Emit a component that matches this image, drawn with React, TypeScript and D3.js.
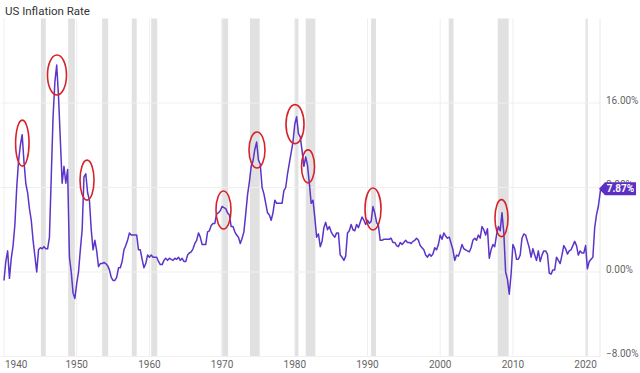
import { useEffect, useRef } from "react";
import * as d3 from "d3";

const title = "US Inflation Rate";

const decadeTicks = [1940, 1950, 1960, 1970, 1980, 1990, 2000, 2010, 2020];
const percentTicks = [-8, 0, 8, 16];

// NBER recessions, start / end as decimal years
const recessions: [number, number][] = [
  [1945.08, 1945.75],
  [1948.83, 1949.75],
  [1953.5, 1954.33],
  [1957.58, 1958.25],
  [1960.25, 1961.08],
  [1969.92, 1970.83],
  [1973.83, 1975.17],
  [1980.0, 1980.5],
  [1981.5, 1982.83],
  [1990.5, 1991.17],
  [2001.17, 2001.83],
  [2007.92, 2009.42],
  [2020.08, 2020.3],
];

const firstYear = 1940;
// YoY CPI inflation (%), quarterly readings: Jan, Apr, Jul, Oct
const inflation = [
  -0.8, 1.0, 2.0, -0.6, // 1940
  1.3, 2.5, 4.5, 8.0, // 1941
  10.5, 12.0, 13.0, 10.4, // 1942
  8.4, 7.5, 6.0, 4.9, // 1943
  3.0, 1.5, 0.0, 2.1, // 1944
  2.3, 2.2, 2.4, 2.2, // 1945
  2.2, 3.3, 9.0, 14.7, // 1946
  18.0, 19.6, 16.6, 12.5, // 1947
  8.4, 10.0, 8.4, 9.7, // 1948
  1.4, 0.0, -2.0, -2.5, // 1949
  -1.1, 0.0, 2.1, 4.0, // 1950
  9.0, 9.3, 7.5, 6.8, // 1951
  4.0, 2.1, 3.0, 2.0, // 1952
  0.5, 0.8, 0.8, 0.9, // 1953
  0.8, 0.6, 0.2, -0.5, // 1954
  -0.8, -0.8, -0.5, 0.4, // 1955
  0.4, 1.0, 2.1, 2.5, // 1956
  3.0, 3.7, 3.5, 3.5, // 1957
  3.5, 3.5, 2.1, 2.1, // 1958
  1.2, 0.4, 0.8, 1.6, // 1959
  1.4, 1.6, 1.4, 1.4, // 1960
  1.4, 1.0, 0.7, 0.7, // 1961
  1.1, 1.3, 1.1, 1.3, // 1962
  1.2, 1.1, 1.3, 1.2, // 1963
  1.4, 1.1, 1.3, 1.0, // 1964
  1.0, 1.6, 1.8, 1.9, // 1965
  2.2, 2.7, 3.0, 3.7, // 1966
  3.3, 2.6, 2.6, 2.6, // 1967
  3.8, 3.9, 4.4, 4.6, // 1968
  4.6, 5.5, 5.6, 5.8, // 1969
  6.2, 6.1, 6.0, 5.6, // 1970
  5.4, 4.3, 4.3, 3.8, // 1971
  3.5, 3.3, 2.7, 3.2, // 1972
  3.8, 5.5, 7.3, 8.5, // 1973
  10.0, 10.5, 11.6, 12.3, // 1974
  10.6, 10.2, 8.0, 7.4, // 1975
  6.5, 5.6, 5.4, 4.9, // 1976
  5.6, 6.8, 6.5, 6.5, // 1977
  6.5, 6.5, 7.7, 8.0, // 1978
  9.3, 10.3, 11.3, 12.3, // 1979
  14.0, 14.7, 13.1, 12.8, // 1980
  11.5, 10.0, 10.9, 10.1, // 1981
  8.4, 6.5, 6.8, 5.2, // 1982
  3.3, 3.6, 2.4, 2.9, // 1983
  4.2, 4.7, 4.0, 4.3, // 1984
  3.8, 3.5, 3.3, 3.7, // 1985
  3.7, 1.6, 1.4, 1.1, // 1986
  1.5, 3.7, 3.9, 4.5, // 1987
  4.0, 3.9, 4.5, 4.2, // 1988
  4.7, 5.2, 4.9, 4.5, // 1989
  4.9, 4.6, 4.8, 6.2, // 1990
  5.6, 4.7, 4.4, 3.0, // 1991
  3.0, 3.1, 3.1, 3.1, // 1992
  3.1, 3.2, 2.8, 2.8, // 1993
  2.5, 2.4, 2.8, 2.6, // 1994
  2.8, 3.0, 2.8, 2.8, // 1995
  2.7, 2.9, 3.0, 3.2, // 1996
  3.0, 2.5, 2.3, 2.1, // 1997
  1.6, 1.4, 1.7, 1.5, // 1998
  1.7, 2.3, 2.1, 2.6, // 1999
  3.5, 3.1, 3.7, 3.4, // 2000
  3.2, 3.3, 2.7, 2.1, // 2001
  1.1, 1.6, 1.5, 2.0, // 2002
  2.6, 2.2, 2.1, 2.0, // 2003
  1.9, 2.3, 3.0, 3.2, // 2004
  3.0, 3.5, 3.2, 4.3, // 2005
  4.0, 3.5, 4.1, 1.3, // 2006
  2.1, 2.6, 2.4, 3.5, // 2007
  4.3, 3.9, 5.6, 3.7, // 2008
  0.0, -0.7, -2.1, -0.2, // 2009
  2.6, 2.2, 1.2, 1.2, // 2010
  1.6, 3.2, 3.6, 3.5, // 2011
  2.9, 2.3, 1.4, 2.2, // 2012
  1.6, 1.1, 2.0, 1.0, // 2013
  1.6, 2.0, 2.0, 1.7, // 2014
  -0.1, -0.2, 0.2, 0.2, // 2015
  1.4, 1.1, 0.8, 1.6, // 2016
  2.5, 2.2, 1.7, 2.0, // 2017
  2.1, 2.5, 2.9, 2.5, // 2018
  1.6, 2.0, 1.8, 1.8, // 2019
  2.5, 0.3, 1.0, 1.2, // 2020
  1.4, 4.2, 5.4, 6.2, // 2021
  7.5, // 2022 Jan
];
const latest = { year: 2022.08, value: 7.87 };

// peaks that are circled in red
const circledPeaks = [
  { year: 1942.52, value: 12.2, rx: 6.7, ry: 23 },
  { year: 1947.29, value: 18.65, rx: 9.5, ry: 20 },
  { year: 1951.42, value: 8.7, rx: 7, ry: 20 },
  { year: 1970.19, value: 5.87, rx: 7.5, ry: 19 },
  { year: 1974.8, value: 11.55, rx: 8, ry: 18 },
  { year: 1980.03, value: 14.0, rx: 9, ry: 19.5 },
  { year: 1981.82, value: 10.0, rx: 6.5, ry: 16.5 },
  { year: 1990.76, value: 5.97, rx: 8, ry: 21 },
  { year: 2008.43, value: 5.1, rx: 6.5, ry: 18.5 },
];

export default function App() {
  const ref = useRef<SVGSVGElement>(null);

  useEffect(() => {
    const svg = d3.select(ref.current);
    svg.selectAll("*").remove();

    const x = d3.scaleLinear().domain([1940, 2020]).range([4, 585.6]);
    const y = d3.scaleLinear().domain([-8, 24]).range([356.5, 18.5]);
    const left = 1;
    const right = 600;
    const font = "Roboto, 'Noto Sans', sans-serif";

    // recession bands
    svg
      .append("g")
      .selectAll("rect")
      .data(recessions)
      .enter()
      .append("rect")
      .attr("x", (d) => x(d[0]))
      .attr("width", (d) => Math.max(1.5, x(d[1]) - x(d[0])))
      .attr("y", y(24))
      .attr("height", y(-8) - y(24))
      .attr("fill", "#e1e1e1");

    // gridlines
    svg
      .append("g")
      .selectAll("line")
      .data(percentTicks)
      .enter()
      .append("line")
      .attr("x1", left)
      .attr("x2", right)
      .attr("y1", (d) => y(d))
      .attr("y2", (d) => y(d))
      .attr("stroke", "#efefef");

    svg
      .append("g")
      .selectAll("line")
      .data(decadeTicks)
      .enter()
      .append("line")
      .attr("x1", (d) => x(d))
      .attr("x2", (d) => x(d))
      .attr("y1", y(24))
      .attr("y2", y(-8))
      .attr("stroke", "#efefef");

    svg
      .append("line")
      .attr("x1", right)
      .attr("x2", right)
      .attr("y1", y(24))
      .attr("y2", y(-8))
      .attr("stroke", "#e8e8e8");

    // inflation line
    const points: [number, number][] = inflation.map((v, i) => [
      firstYear + i / 4,
      v,
    ]);
    points.push([latest.year, latest.value]);

    const line = d3
      .line<[number, number]>()
      .x((d) => x(d[0]))
      .y((d) => y(d[1]));

    svg
      .append("path")
      .datum(points)
      .attr("d", line)
      .attr("fill", "none")
      .attr("stroke", "#5b34c8")
      .attr("stroke-width", 1.5)
      .attr("stroke-linejoin", "round");

    // red circles
    svg
      .append("g")
      .selectAll("ellipse")
      .data(circledPeaks)
      .enter()
      .append("ellipse")
      .attr("cx", (d) => x(d.year))
      .attr("cy", (d) => y(d.value))
      .attr("rx", (d) => d.rx)
      .attr("ry", (d) => d.ry)
      .attr("fill", "none")
      .attr("stroke", "#d7222b")
      .attr("stroke-width", 1.6);

    // right axis labels
    svg
      .append("g")
      .selectAll("text")
      .data(percentTicks)
      .enter()
      .append("text")
      .attr("x", 606)
      .attr("y", (d) => y(d) - 3)
      .attr("dy", "0.35em")
      .style("font-family", font)
      .style("font-size", "10px")
      .style("fill", "#666")
      .text((d) => d3.format(".2f")(d) + "%");

    // x axis labels
    svg
      .append("g")
      .selectAll("text")
      .data(decadeTicks)
      .enter()
      .append("text")
      .attr("x", (d) => (d === 1940 ? x(d) + 1 : x(d)))
      .attr("y", 364)
      .attr("dy", "0.35em")
      .attr("text-anchor", (d) => (d === 1940 ? "start" : "middle"))
      .style("font-family", font)
      .style("font-size", "10px")
      .style("fill", "#666")
      .text((d) => d);

    // latest value badge
    const by = y(latest.value);
    svg
      .append("path")
      .attr(
        "d",
        `M${right - 1},${by} L${right + 5},${by - 6.5} L636,${by - 6.5} L636,${by + 6.5} L${right + 5},${by + 6.5} Z`,
      )
      .attr("fill", "#5b2fc4");

    svg
      .append("text")
      .attr("x", 620.5)
      .attr("y", by)
      .attr("dy", "0.35em")
      .attr("text-anchor", "middle")
      .style("font-family", font)
      .style("font-size", "10px")
      .style("font-weight", "bold")
      .style("fill", "#fff")
      .text(latest.value.toFixed(2) + "%");

    // title
    svg
      .append("text")
      .attr("x", 5)
      .attr("y", 12)
      .attr("dy", "0.3em")
      .style("font-family", font)
      .style("font-size", "11.5px")
      .style("fill", "#333")
      .text(title);
  }, []);

  return (
    <div style={{ position: "fixed", left: 0, top: 0, background: "#fff" }}>
      <svg ref={ref} width={640} height={373} />
    </div>
  );
}
